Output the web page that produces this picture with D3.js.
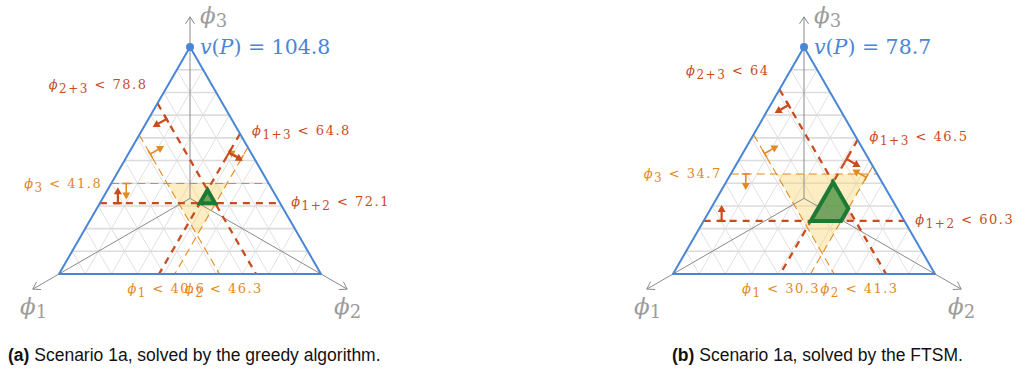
<!DOCTYPE html>
<html><head><meta charset="utf-8">
<script src="https://cdn.jsdelivr.net/npm/d3@7"></script>
<style>body{margin:0;background:#fff} svg{display:block}</style>
</head><body>
<svg id="chart" width="1019" height="369"></svg>
<script>
// Two ternary (simplex) plots of the core of a 3-player game.
const panelIds = ["(a)", "(b)"];
const captions = [" Scenario 1a, solved by the greedy algorithm.", " Scenario 1a, solved by the FTSM."];
const grandValues = [104.8, 78.7];                 // v(P)
// upper bounds on single players ϕ1, ϕ2, ϕ3
const singleBounds = [[40.6, 46.3, 41.8], [30.3, 41.3, 34.7]];
// upper bounds on pairs ϕ2+3, ϕ1+3, ϕ1+2
const pairBounds = [[78.8, 64.8, 72.1], [64, 46.5, 60.3]];
const pairNames = ["2+3", "1+3", "1+2"];
const gridDivisions = 10;

const SIDE = 262, BASE_Y = 274, H = Math.sqrt(3) / 2;
const panelLeft = [59, 673];
const C = {
  blue: "#4a86d6", orange: "#e3891f", red: "#c94c1d", grid: "#dcdcdc",
  axis: "#8a8a8a", axisText: "#9c9c9c", green: "#1c7a35"
};
const svg = d3.select("#chart");

// clip a polygon (barycentric vertices) by a linear predicate f(p) >= 0
function clip(poly, f) {
  const out = [];
  for (let i = 0; i < poly.length; i++) {
    const a = poly[i], b = poly[(i + 1) % poly.length];
    const fa = f(a), fb = f(b);
    if (fa >= 0) out.push(a);
    if ((fa >= 0) !== (fb >= 0)) {
      const t = fa / (fa - fb);
      out.push(a.map((v, j) => v + t * (b[j] - v)));
    }
  }
  return out;
}

function mathLabel(g, x, y, anchor, sub, rest, color) {
  const t = g.append("text").attr("x", x).attr("y", y).attr("text-anchor", anchor)
    .attr("fill", color).attr("font-family", "DejaVu Serif").attr("font-size", 13)
    .attr("letter-spacing", 1.5);
  t.append("tspan").attr("font-style", "italic").text("ϕ");
  t.append("tspan").attr("dy", 4).attr("font-size", 12).text(sub);
  t.append("tspan").attr("dy", -4).text(" < " + rest);
}

panelIds.forEach((id, k) => {
  const T = grandValues[k];
  const s = d3.scaleLinear().domain([0, T]).range([0, SIDE]);
  const x0 = panelLeft[k];
  const P = p => [x0 + s(p[1]) + s(p[2]) / 2, BASE_Y - s(p[2]) * H];
  const line = d3.line();
  const g = svg.append("g");

  // the line ϕ_i = c : [upper/left end, other end]
  const ends = (i, c) => i === 0 ? [[c, 0, T - c], [c, T - c, 0]]
    : i === 1 ? [[0, c, T - c], [T - c, c, 0]]
    : [[T - c, 0, c], [0, T - c, c]];

  const simplex = [[T, 0, 0], [0, T, 0], [0, 0, T]];

  // triangular grid
  for (let j = 1; j < gridDivisions; j++) {
    const c = T * j / gridDivisions;
    [0, 1, 2].forEach(i => {
      g.append("path").attr("d", line(ends(i, c).map(P)))
        .attr("stroke", C.grid).attr("stroke-width", i === 2 ? 1.6 : 0.9).attr("fill", "none");
    });
  }

  // region under the single-player bounds
  let upper = simplex;
  singleBounds[k].forEach((u, i) => { upper = clip(upper, p => u - p[i]); });
  g.append("path").attr("d", line(upper.map(P)) + "Z")
    .attr("fill", "#f8d36f").attr("fill-opacity", 0.42);

  // region above the pair bounds
  let lower = simplex;
  pairBounds[k].forEach((u, i) => { lower = clip(lower, p => p[i] - (T - u)); });
  g.append("path").attr("d", line(lower.map(P)) + "Z")
    .attr("fill", "#f29a76").attr("fill-opacity", 0.45);

  // core: both sets of bounds
  let core = lower;
  singleBounds[k].forEach((u, i) => { core = clip(core, p => u - p[i]); });
  g.append("path").attr("d", line(core.map(P)) + "Z")
    .attr("fill", "#3f9a45").attr("fill-opacity", 0.72);

  // axes from the centroid through each vertex
  const cen = P([T / 3, T / 3, T / 3]);
  simplex.forEach(v => {
    const pv = P(v);
    const dx = pv[0] - cen[0], dy = pv[1] - cen[1], L = Math.hypot(dx, dy);
    const ux = dx / L, uy = dy / L, len = L * 1.2;
    const tip = [cen[0] + ux * len, cen[1] + uy * len];
    g.append("path").attr("d", line([cen, tip])).attr("stroke", C.axis).attr("stroke-width", 1).attr("fill", "none");
    const a = 7, w = 4.5;
    g.append("path").attr("d", line([
      [tip[0] - ux * a - uy * w, tip[1] - uy * a + ux * w], tip,
      [tip[0] - ux * a + uy * w, tip[1] - uy * a - ux * w]]))
      .attr("stroke", C.axis).attr("stroke-width", 1).attr("fill", "none");
  });

  // constraint lines and their direction markers
  function constraint(i, c, sign, color, thick, markDist) {
    const [a, b] = ends(i, c).map(P);
    g.append("path").attr("d", line([a, b])).attr("stroke", color)
      .attr("stroke-width", thick ? 2.3 : 1.1).attr("stroke-dasharray", thick ? "7,6" : "8,5")
      .attr("fill", "none");
    const L = Math.hypot(b[0] - a[0], b[1] - a[1]);
    const u = [(b[0] - a[0]) / L, (b[1] - a[1]) / L];
    const base = [a[0] + u[0] * markDist, a[1] + u[1] * markDist];
    // direction in which ϕ_i moves by sign
    const bb = ends(i, c)[0];
    const moved = bb.map((v, j) => j === i ? v + sign * 1 : v - sign * 0.5);
    const p0 = P(bb), p1 = P(moved);
    const nl = Math.hypot(p1[0] - p0[0], p1[1] - p0[1]);
    const n = [(p1[0] - p0[0]) / nl, (p1[1] - p0[1]) / nl];
    const sw = thick ? 2.2 : 1.6, stem = 16, head = 7, hw = 4;
    const tip = [base[0] + n[0] * stem, base[1] + n[1] * stem];
    g.append("path").attr("d", line([[base[0] - u[0] * 4, base[1] - u[1] * 4], [base[0] + u[0] * 4, base[1] + u[1] * 4]]))
      .attr("stroke", color).attr("stroke-width", sw);
    g.append("path").attr("d", line([base, [tip[0] - n[0] * head * 0.6, tip[1] - n[1] * head * 0.6]]))
      .attr("stroke", color).attr("stroke-width", sw);
    g.append("path").attr("d", line([tip,
      [tip[0] - n[0] * head + u[0] * hw, tip[1] - n[1] * head + u[1] * hw],
      [tip[0] - n[0] * head - u[0] * hw, tip[1] - n[1] * head - u[1] * hw]]) + "Z")
      .attr("fill", color);
    return [a, b];
  }

  const singleMark = [22, 13, 15], pairMark = [18, 22, 18];
  singleBounds[k].forEach((u, i) => {
    const [a, b] = constraint(i, u, -1, C.orange, false, singleMark[i]);
    if (i === 0) mathLabel(g, b[0] - 14, b[1] + 19, "end", "1", u, C.orange);
    if (i === 1) mathLabel(g, b[0] + 10, b[1] + 19, "start", "2", u, C.orange);
    if (i === 2) mathLabel(g, a[0] - 9, a[1] + 4, "end", "3", u, C.orange);
  });
  pairBounds[k].forEach((u, i) => {
    const [a, b] = constraint(i, T - u, 1, C.red, true, pairMark[i]);
    if (i === 0) mathLabel(g, a[0] - 10, a[1] - 14, "end", pairNames[i], u, C.red);
    if (i === 1) mathLabel(g, a[0] + 12, a[1] + 1, "start", pairNames[i], u, C.red);
    if (i === 2) mathLabel(g, b[0] + 11, b[1] + 3, "start", pairNames[i], u, C.red);
  });

  // core outline on top
  g.append("path").attr("d", line(core.map(P)) + "Z")
    .attr("fill", "none").attr("stroke", C.green).attr("stroke-width", 4).attr("stroke-linejoin", "miter");

  // simplex border
  g.append("path").attr("d", line(simplex.map(P)) + "Z")
    .attr("fill", "none").attr("stroke", C.blue).attr("stroke-width", 2).attr("stroke-linejoin", "round");
  const top = P([0, 0, T]);
  g.append("circle").attr("cx", top[0]).attr("cy", top[1]).attr("r", 4).attr("fill", C.blue);

  // v(P) label
  const vt = g.append("text").attr("x", x0 + 141).attr("y", 54).attr("fill", C.blue)
    .attr("font-family", "DejaVu Serif").attr("font-size", 20.5);
  vt.append("tspan").attr("font-style", "italic").text("v");
  vt.append("tspan").text("(");
  vt.append("tspan").attr("font-style", "italic").text("P");
  vt.append("tspan").text(") = " + T);

  // axis names
  [[x0 - 39, 314, "1"], [x0 + 275, 314, "2"], [x0 + 141, 23, "3"]].forEach(([x, y, n]) => {
    const t = g.append("text").attr("x", x).attr("y", y).attr("fill", C.axisText)
      .attr("font-family", "DejaVu Serif").attr("font-size", 23);
    t.append("tspan").attr("font-style", "italic").text("ϕ");
    t.append("tspan").attr("dy", 4).attr("font-size", 18).text(n);
  });

  // caption
  const cap = svg.append("text").attr("x", [8, 672][k]).attr("y", 361)
    .attr("font-family", "Liberation Sans").attr("font-size", 17.5).attr("fill", "#111");
  cap.append("tspan").attr("font-weight", "bold").text(id);
  cap.append("tspan").text(captions[k]);
});
</script>
</body></html>
